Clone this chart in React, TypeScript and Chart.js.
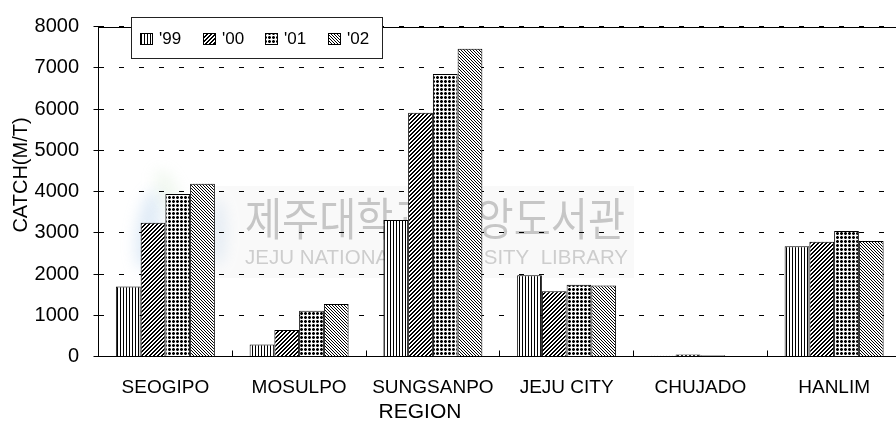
import React, { useEffect, useRef } from 'react';
import { Chart, registerables } from 'chart.js';

Chart.register(...registerables);

// ---- data ----
const REGIONS = ['SEOGIPO', 'MOSULPO', 'SUNGSANPO', 'JEJU CITY', 'CHUJADO', 'HANLIM'];
const YEARS = ["'99", "'00", "'01", "'02"];
const CATCH_99 = [1700, 290, 3310, 1970, 20, 2670];
const CATCH_00 = [3240, 640, 5910, 1580, 50, 2780];
const CATCH_01 = [3940, 1110, 6850, 1740, 30, 3040];
const CATCH_02 = [4190, 1270, 7460, 1720, 0, 2800];
const Y_MIN = 0;
const Y_MAX = 8000;
const Y_STEP = 1000;
const X_TITLE = 'REGION';
const Y_TITLE = 'CATCH(M/T)';
const WATERMARK_KO = '제주대학교 중앙도서관';
const WATERMARK_EN = 'JEJU NATIONAL UNIVERSITY  LIBRARY';

const FONT = '"Liberation Sans", Arial, sans-serif';

// darkness 0..1 for each tile pixel
type PixelRule = (x: number, y: number) => number;

function makePattern(ctx: CanvasRenderingContext2D, size: number, rule: PixelRule): CanvasPattern {
  const c = document.createElement('canvas');
  c.width = size;
  c.height = size;
  const g = c.getContext('2d') as CanvasRenderingContext2D;
  const img = g.createImageData(size, size);
  for (let y = 0; y < size; y++) {
    for (let x = 0; x < size; x++) {
      const i = (y * size + x) * 4;
      const v = Math.round(255 * (1 - rule(x, y)));
      img.data[i] = v;
      img.data[i + 1] = v;
      img.data[i + 2] = v;
      img.data[i + 3] = 255;
    }
  }
  g.putImageData(img, 0, 0);
  return ctx.createPattern(c, 'repeat') as CanvasPattern;
}

const dotRule: PixelRule = (x, y) => {
  if (x > 2 || y > 2) return 0;
  if (x === 1 || y === 1) return 1;
  return 0.5;
};

const decorPlugin = {
  id: 'decor',
  beforeDraw(chart: any) {
    const ctx: CanvasRenderingContext2D = chart.ctx;
    // faint library watermark behind the plot
    ctx.save();
    ctx.fillStyle = 'rgba(0,0,0,0.025)';
    ctx.fillRect(212, 186, 422, 92);
    ctx.filter = 'blur(7px)';
    ctx.fillStyle = 'rgba(120,170,220,0.22)';
    ctx.beginPath();
    ctx.ellipse(148, 230, 12, 40, 0.15, 0, Math.PI * 2);
    ctx.fill();
    ctx.fillStyle = 'rgba(180,215,170,0.18)';
    ctx.beginPath();
    ctx.ellipse(168, 192, 10, 24, -0.4, 0, Math.PI * 2);
    ctx.fill();
    ctx.fillStyle = 'rgba(130,175,220,0.16)';
    ctx.beginPath();
    ctx.ellipse(218, 232, 9, 34, 0, 0, Math.PI * 2);
    ctx.fill();
    ctx.filter = 'none';
    ctx.fillStyle = '#c6c6c6';
    ctx.font = '45px "Noto Sans CJK KR", sans-serif';
    ctx.textBaseline = 'middle';
    ctx.textAlign = 'left';
    let w = ctx.measureText(WATERMARK_KO).width;
    ctx.translate(245, 219);
    ctx.scale(380 / w, 1);
    ctx.fillText(WATERMARK_KO, 0, 0);
    ctx.restore();
    ctx.save();
    ctx.fillStyle = '#cdcdcd';
    ctx.font = '21px ' + FONT;
    ctx.textBaseline = 'middle';
    ctx.textAlign = 'left';
    w = ctx.measureText(WATERMARK_EN).width;
    ctx.translate(245, 258);
    ctx.scale(383 / w, 1);
    ctx.fillText(WATERMARK_EN, 0, 0);
    ctx.restore();
  },
  afterDraw(chart: any) {
    const ctx: CanvasRenderingContext2D = chart.ctx;
    const area = chart.chartArea;
    ctx.save();
    // top frame line
    ctx.strokeStyle = '#000';
    ctx.lineWidth = 1;
    ctx.beginPath();
    ctx.moveTo(area.left, Math.round(area.top) + 0.5);
    ctx.lineTo(area.right, Math.round(area.top) + 0.5);
    ctx.stroke();

    // legend box
    ctx.fillStyle = '#fff';
    ctx.fillRect(131.5, 17.5, 251, 41);
    ctx.strokeStyle = '#222';
    ctx.strokeRect(131.5, 17.5, 251, 41);
    const ds = chart.data.datasets;
    ctx.font = '17px ' + FONT;
    ctx.textBaseline = 'middle';
    ctx.textAlign = 'left';
    for (let i = 0; i < ds.length; i++) {
      const sx = 140 + Math.round(i * 62.7);
      ctx.fillStyle = ds[i].backgroundColor;
      ctx.fillRect(sx, 33, 13, 12);
      ctx.strokeStyle = '#000';
      ctx.strokeRect(sx + 0.5, 33.5, 12, 11);
      ctx.fillStyle = '#000';
      ctx.fillText(ds[i].label, sx + 19, 39.5);
    }

    // axis titles
    const xt = chart.options.scales.x.title;
    const yt = chart.options.scales.y.title;
    ctx.fillStyle = '#000';
    ctx.font = '21px ' + FONT;
    ctx.textAlign = 'center';
    ctx.textBaseline = 'middle';
    ctx.fillText(xt.text, 420, 412);
    ctx.translate(21, 175);
    ctx.rotate(-Math.PI / 2);
    ctx.font = '20px ' + FONT;
    ctx.fillText(yt.text, 0, 0);
    ctx.restore();
  },
};

export default function App() {
  const ref = useRef<HTMLCanvasElement>(null);

  useEffect(() => {
    const canvas = ref.current;
    if (!canvas) return;
    const ctx = canvas.getContext('2d') as CanvasRenderingContext2D;

    const patterns = [
      makePattern(ctx, 3, (x) => (x === 0 ? 1 : 0)),
      makePattern(ctx, 4, (x, y) => ((x + y) % 4 < 2 ? 1 : 0)),
      makePattern(ctx, 4, dotRule),
      makePattern(ctx, 3, (x, y) => ((x - y + 6) % 3 === 0 ? 1 : 0)),
    ];
    const values = [CATCH_99, CATCH_00, CATCH_01, CATCH_02];

    const chart = new Chart(ctx, {
      type: 'bar',
      data: {
        labels: REGIONS,
        datasets: YEARS.map((yr, i) => ({
          label: yr,
          data: values[i],
          backgroundColor: patterns[i],
          borderColor: '#000',
          borderWidth: 1,
          categoryPercentage: 0.74,
          barPercentage: 1.0,
        })),
      },
      options: {
        responsive: false,
        animation: false,
        devicePixelRatio: 1,
        layout: { padding: { top: 14, right: 9, left: 0, bottom: 0 } },
        plugins: { legend: { display: false }, tooltip: { enabled: false } },
        scales: {
          x: {
            type: 'category',
            offset: true,
            grid: {
              display: true,
              drawOnChartArea: false,
              drawTicks: true,
              tickLength: -6,
              color: '#000',
              tickColor: '#000',
              offset: true,
              lineWidth: 1,
            },
            border: { display: true, color: '#000', width: 1 },
            ticks: {
              color: '#000',
              font: { family: FONT, size: 19 },
              padding: 26,
              maxRotation: 0,
              autoSkip: false,
            },
            title: { display: false, text: X_TITLE },
            afterFit: (s: any) => {
              s.height = 74.5;
            },
          },
          y: {
            min: Y_MIN,
            max: Y_MAX,
            ticks: {
              stepSize: Y_STEP,
              color: '#000',
              font: { family: FONT, size: 20 },
              padding: 14.5,
              callback: (v: any) => String(v),
            },
            grid: {
              color: '#000',
              lineWidth: 1,
              drawTicks: true,
              tickLength: 5,
              tickColor: '#000',
              tickBorderDash: [],
            },
            border: { display: true, color: '#000', width: 1, dash: [5, 15] },
            title: { display: false, text: Y_TITLE },
            afterFit: (s: any) => {
              s.width = 98.5;
            },
          },
        },
      } as any,
      plugins: [decorPlugin],
    });

    return () => chart.destroy();
  }, []);

  return (
    <div
      style={{
        position: 'fixed',
        left: 0,
        top: 0,
        width: 896,
        height: 431,
        overflow: 'hidden',
        background: '#fff',
      }}
    >
      <canvas ref={ref} width={910} height={431} style={{ display: 'block', width: 910, height: 431 }} />
    </div>
  );
}
